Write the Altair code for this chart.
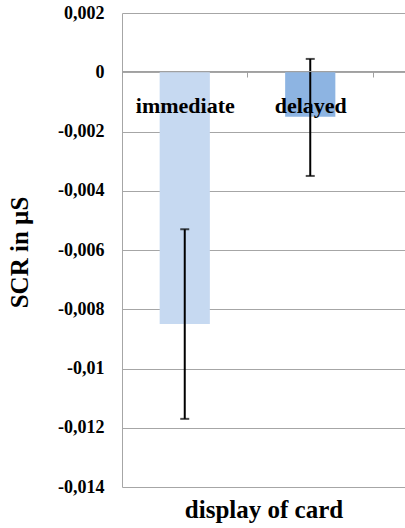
import altair as alt
import pandas as pd

categories = ["immediate", "delayed"]
means = [-0.0085, -0.0015]
err_low = [-0.0117, -0.0035]
err_high = [-0.0053, 0.00045]
colors = ["#c6d9f1", "#8db4e2"]
y_ticks = [0.002, 0, -0.002, -0.004, -0.006, -0.008, -0.01, -0.012, -0.014]

df = pd.DataFrame({"cat": categories, "mean": means, "lo": err_low, "hi": err_high})

FONT = "Times New Roman"
W, H = 283, 474

xscale = alt.Scale(domain=categories, paddingInner=0, paddingOuter=0.1275, align=0)
yscale = alt.Scale(domain=[-0.014, 0.002], nice=False, zero=False)

x_enc = alt.X(
    "cat:N", scale=xscale, sort=categories,
    axis=alt.Axis(
        orient="bottom", offset=-416, title="display of card",
        titleFont=FONT, titleFontSize=25, titleFontWeight="bold", titleColor="black",
        titleBaseline="alphabetic", titleY=446,
        labelAngle=0, labelFont=FONT, labelFontSize=22, labelFontWeight="bold",
        labelColor="black", labelPadding=18, tickBand="extent", tickSize=6,
        tickColor="#a0a0a0", domainColor="#a0a0a0", zindex=1,
    ),
)

y_enc = alt.Y(
    "mean:Q", scale=yscale,
    axis=alt.Axis(
        values=y_ticks, title="SCR in µS",
        titleFont=FONT, titleFontSize=25, titleFontWeight="bold", titleColor="black",
        titleAngle=-90, titleBaseline="middle", titleAlign="center", titleX=-103, titleY=239,
        labelFont=FONT, labelFontSize=18, labelFontWeight="bold", labelColor="black",
        labelExpr="replace('' + datum.value, '.', ',')",
        labelPadding=18, ticks=False, grid=True, gridColor="#a6a6a6",
        domainColor="#a6a6a6",
    ),
)

bars = alt.Chart(df).mark_bar(width=alt.RelativeBandSize(0.4)).encode(
    x=x_enc,
    y=y_enc,
    y2=alt.Y2(datum=0),
    color=alt.Color("cat:N", scale=alt.Scale(domain=categories, range=colors), legend=None),
)

err = alt.Chart(df).mark_rule(color="black", strokeWidth=2).encode(
    x=alt.X("cat:N", scale=xscale, sort=categories),
    y=alt.Y("lo:Q", scale=yscale),
    y2="hi:Q",
)
cap_lo = alt.Chart(df).mark_tick(color="black", size=9, thickness=2).encode(
    x=alt.X("cat:N", scale=xscale, sort=categories),
    y=alt.Y("lo:Q", scale=yscale),
)
cap_hi = alt.Chart(df).mark_tick(color="black", size=9, thickness=2).encode(
    x=alt.X("cat:N", scale=xscale, sort=categories),
    y=alt.Y("hi:Q", scale=yscale),
)

chart = alt.layer(bars, err, cap_lo, cap_hi).properties(
    width=W, height=H,
    autosize=alt.AutoSizeParams(type="none"),
    padding={"left": 122, "top": 13, "right": 0, "bottom": 41},
    background="white",
).configure_view(stroke=None)

chart.save("out.html", embed_options={"renderer": "svg", "actions": False})
